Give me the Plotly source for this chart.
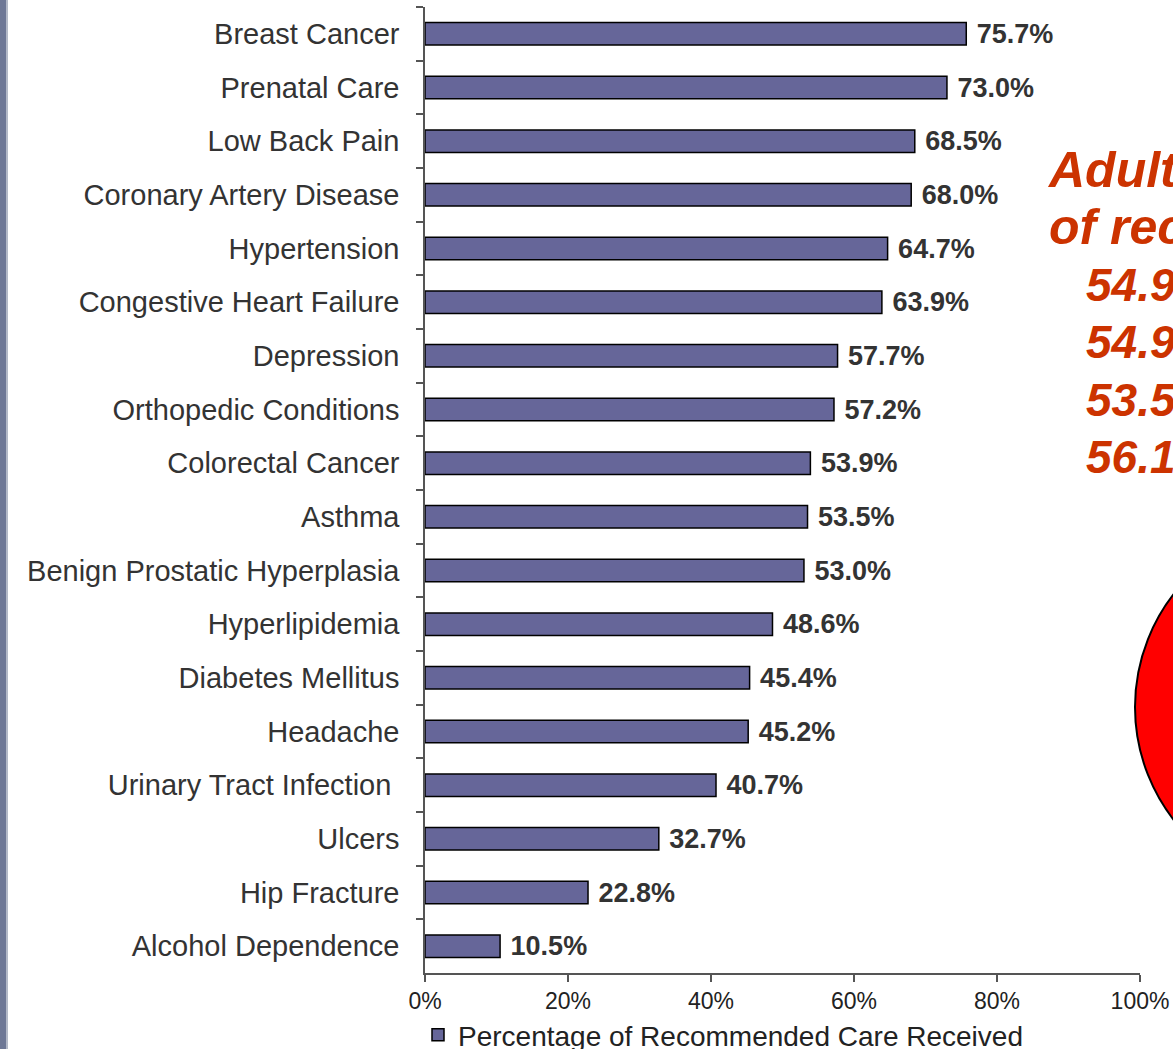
import plotly.graph_objects as go

categories = [
    "Breast Cancer", "Prenatal Care", "Low Back Pain", "Coronary Artery Disease",
    "Hypertension", "Congestive Heart Failure", "Depression", "Orthopedic Conditions",
    "Colorectal Cancer", "Asthma", "Benign Prostatic Hyperplasia", "Hyperlipidemia",
    "Diabetes Mellitus", "Headache", "Urinary Tract Infection\u00a0", "Ulcers",
    "Hip Fracture", "Alcohol Dependence",
]
values = [75.7, 73.0, 68.5, 68.0, 64.7, 63.9, 57.7, 57.2, 53.9, 53.5, 53.0,
          48.6, 45.4, 45.2, 40.7, 32.7, 22.8, 10.5]
series_name = "Percentage of Recommended Care Received"
x_ticks = [0, 20, 40, 60, 80, 100]
x_tick_labels = ["0%", "20%", "40%", "60%", "80%", "100%"]

side_title = ["Adults receive about half", "of recommended care"]
side_values = ["54.9% overall", "54.9% preventive care", "53.5% acute care", "56.1% chronic care"]

W, H = 1173, 1049
L, R, T, B = 425, 33, 7, 76
PW, PH = W - L - R, H - T - B

def px(x):
    return (x - L) / PW

def py(y):
    return (H - B - y) / PH

fig = go.Figure()
fig.add_trace(go.Bar(
    y=categories, x=values, orientation="h", name=series_name,
    marker=dict(color="#666699", line=dict(color="#000000", width=1.5)),
    width=0.42,
    texttemplate="\u00a0%{x:.1f}%", textposition="outside", cliponaxis=False,
    constraintext="none",
    textfont=dict(family="Liberation Sans, Arial, sans-serif", size=27, color="#333333", weight="bold"),
    showlegend=True,
))

fig.update_layout(
    width=W, height=H,
    margin=dict(l=L, r=R, t=T, b=B, autoexpand=False),
    paper_bgcolor="white", plot_bgcolor="white",
    font=dict(family="Liberation Sans, Arial, sans-serif", color="#333333"),
    showlegend=True,
    legend=dict(x=px(418), y=py(1035), xanchor="left", yanchor="middle",
                orientation="h", font=dict(size=28, color="#222222"),
                bgcolor="rgba(0,0,0,0)", itemwidth=30),
)

fig.update_xaxes(
    range=[0, 100], tickvals=x_ticks, ticktext=x_tick_labels,
    showgrid=False, zeroline=False,
    showline=True, linecolor="#555555", linewidth=1.5,
    ticks="outside", ticklen=7, tickcolor="#555555", tickwidth=1.5,
    tickfont=dict(size=23, color="#222222"),
)
fig.update_yaxes(
    autorange="reversed", showgrid=False, zeroline=False,
    showline=True, linecolor="#555555", linewidth=1.5,
    ticks="outside", ticklen=7, tickcolor="#555555", tickwidth=1.5,
    tickson="boundaries", ticklabelstandoff=18,
    tickfont=dict(size=29, color="#333333"),
)

# left slide border strip
fig.add_shape(type="rect", xref="paper", yref="paper",
              x0=px(0), x1=px(6), y0=py(H), y1=py(0),
              fillcolor="#6e7896", line=dict(width=0), layer="above")
fig.add_shape(type="rect", xref="paper", yref="paper",
              x0=px(6), x1=px(8), y0=py(H), y1=py(0),
              fillcolor="#b4bac8", line=dict(width=0), layer="above")

# partially visible red circle at the right edge
fig.add_shape(type="circle", xref="paper", yref="paper",
              x0=px(1135), x1=px(1503), y0=py(891), y1=py(523),
              fillcolor="#FF0000", line=dict(color="#000000", width=2), layer="above")

red = "#CC3300"
for i, t in enumerate(side_title):
    fig.add_annotation(x=px(1045 + 2 * i), y=py(170 + 57 * i), xref="paper", yref="paper",
                       text=t, showarrow=False, xanchor="left", yanchor="middle",
                       font=dict(size=50, color=red, weight="bold", style="italic"))
for i, t in enumerate(side_values):
    fig.add_annotation(x=px(1084), y=py(285 + 57.3 * i), xref="paper", yref="paper",
                       text=t, showarrow=False, xanchor="left", yanchor="middle",
                       font=dict(size=46, color=red, weight="bold", style="italic"))

fig.write_html("out.html")
